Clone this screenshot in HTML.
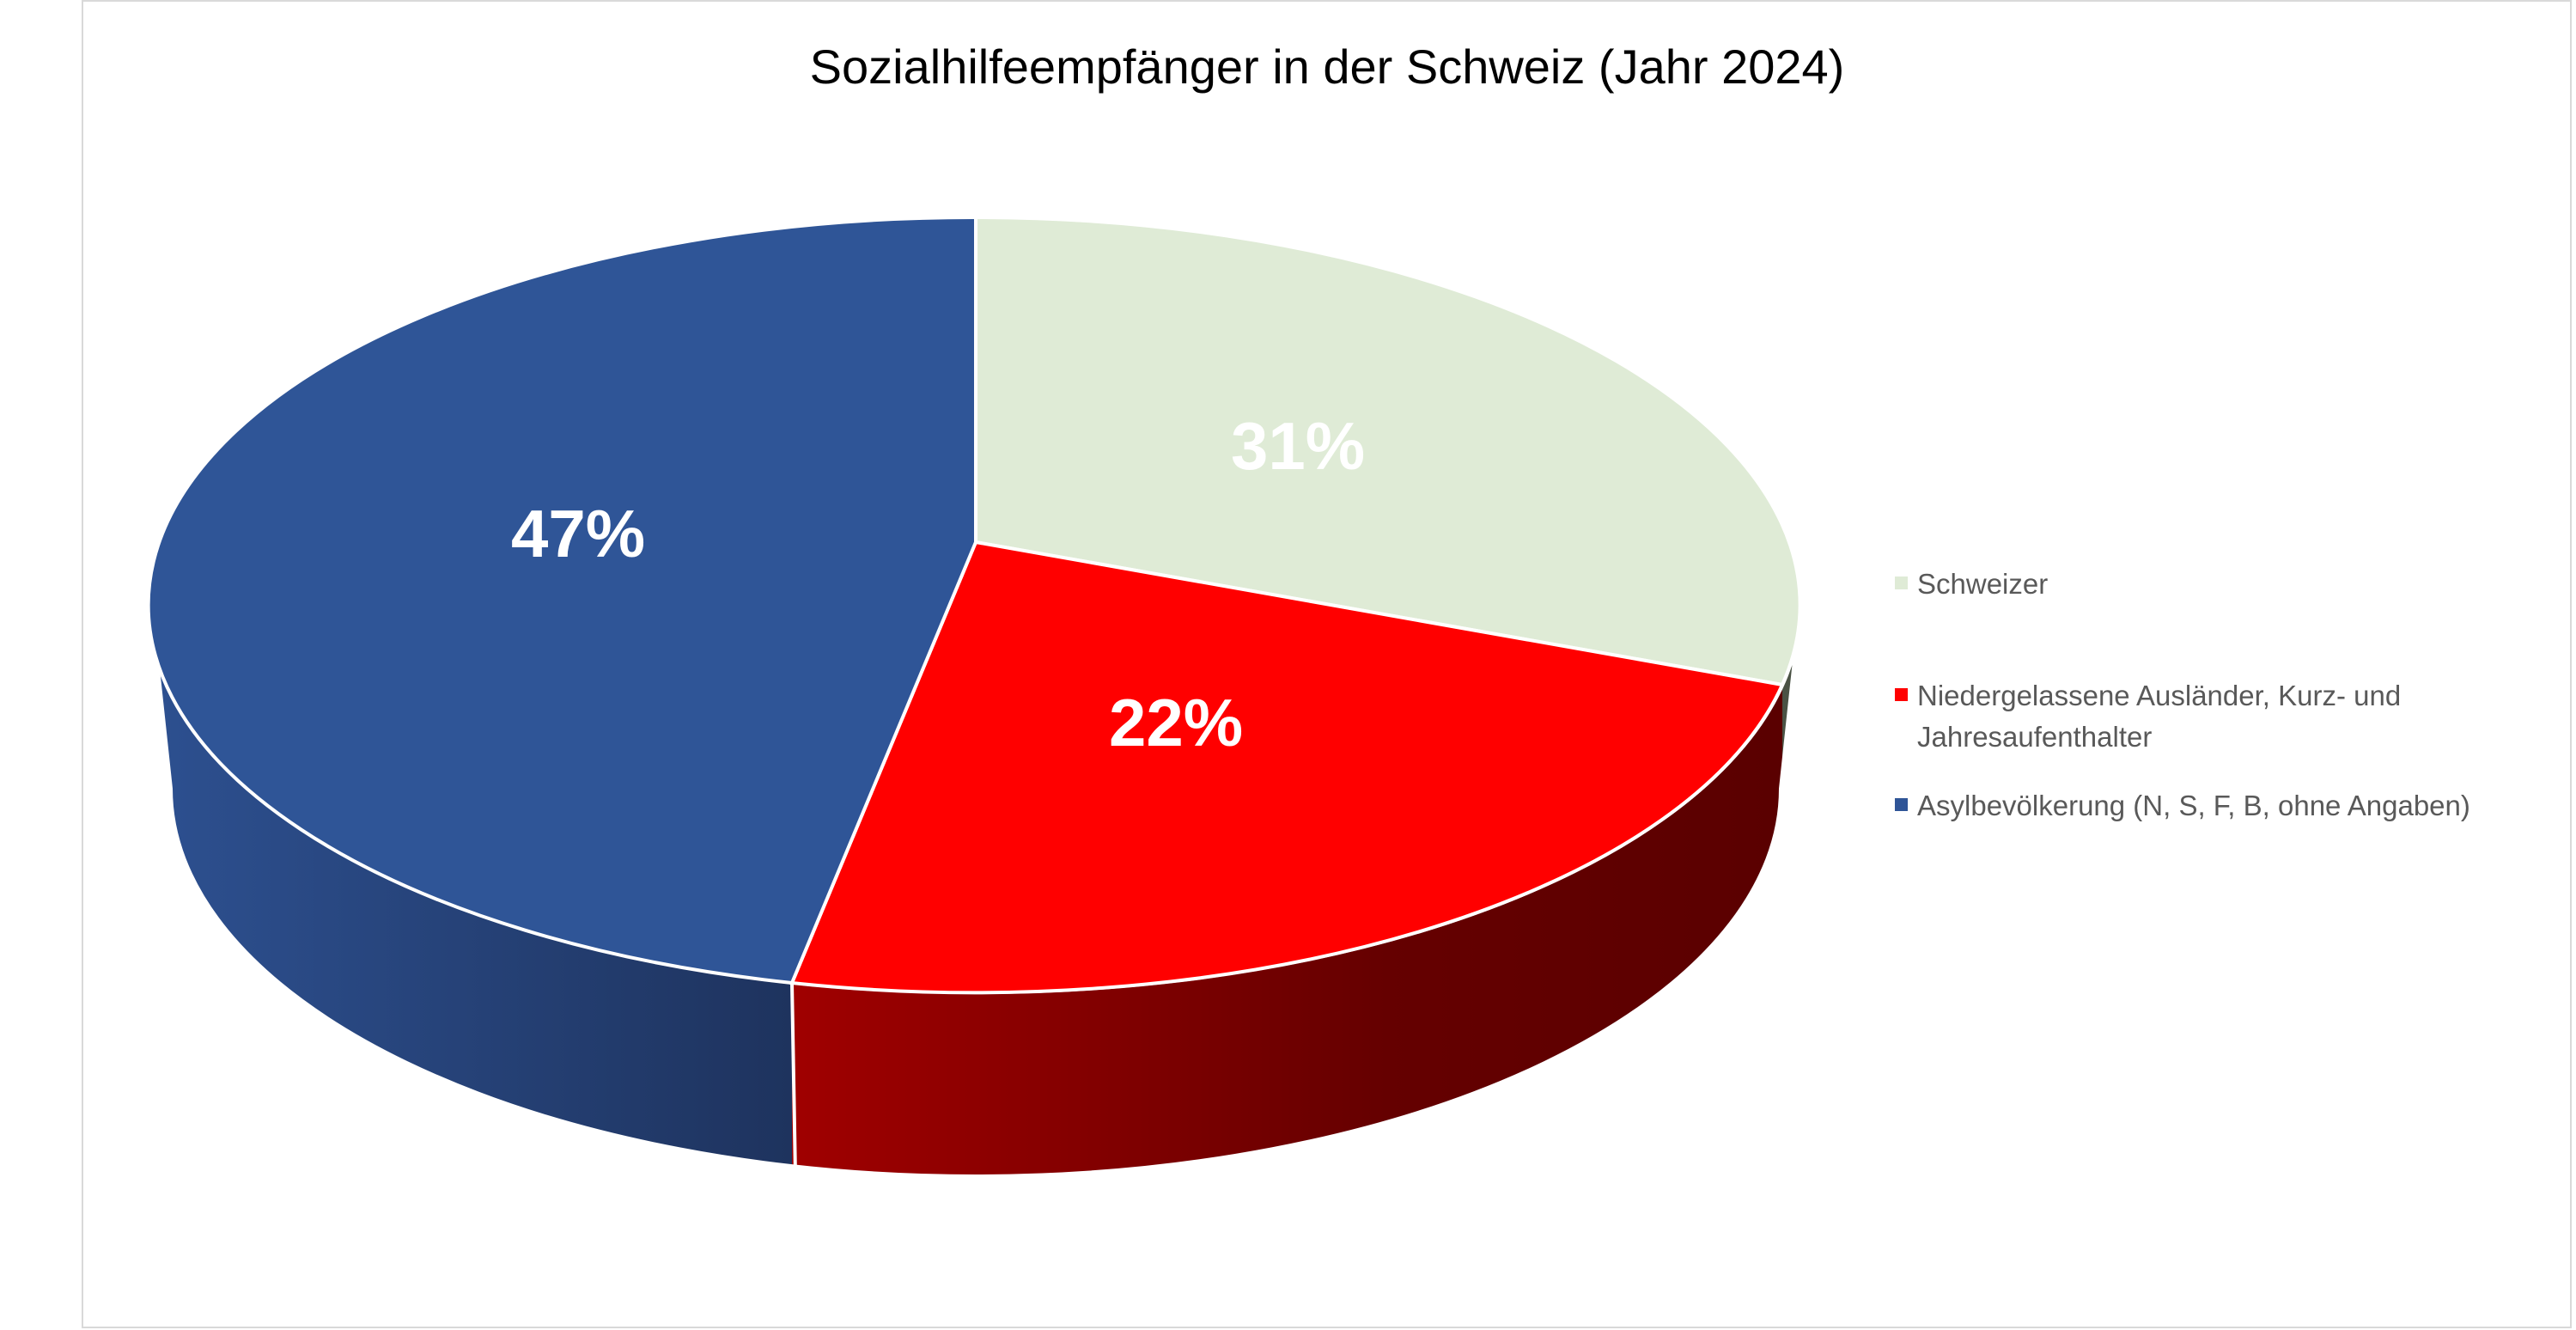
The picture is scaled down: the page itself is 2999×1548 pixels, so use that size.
<!DOCTYPE html>
<html><head><meta charset="utf-8"><style>
html,body{margin:0;padding:0;background:#fff;}
svg{display:block;}
text{font-family:"Liberation Sans",sans-serif;}
</style></head><body>
<svg width="2999" height="1548" viewBox="0 0 2999 1548" xmlns="http://www.w3.org/2000/svg">
<defs>
<linearGradient id="gb" x1="176" y1="0" x2="922" y2="0" gradientUnits="userSpaceOnUse">
<stop offset="0" stop-color="#2d5090"/><stop offset="1" stop-color="#1e335e"/></linearGradient>
<linearGradient id="gr" x1="922" y1="0" x2="2075" y2="0" gradientUnits="userSpaceOnUse">
<stop offset="0" stop-color="#a00000"/><stop offset="0.6" stop-color="#650000"/><stop offset="1" stop-color="#5a0000"/></linearGradient>
<clipPath id="cb"><rect x="0" y="0" width="922" height="1548"/></clipPath>
<clipPath id="cr"><rect x="922" y="0" width="1153" height="1548"/></clipPath>
<clipPath id="cg"><rect x="2075" y="0" width="900" height="1548"/></clipPath>
</defs>
<rect x="96" y="1" width="2897" height="1544" fill="#fff" stroke="#d9d9d9" stroke-width="2"/>
<text x="1545" y="97" font-size="56" text-anchor="middle" fill="#000">Sozialhilfeempfänger in der Schweiz (Jahr 2024)</text>
<g stroke="#fff" stroke-width="4">
<path clip-path="url(#cb)" d="M176,704 A960,451 0 0 0 2096,704 L2073,918 A937,451 0 0 1 199,918 Z" fill="url(#gb)"/>
<path clip-path="url(#cr)" d="M176,704 A960,451 0 0 0 2096,704 L2073,918 A937,451 0 0 1 199,918 Z" fill="url(#gr)"/>
<path clip-path="url(#cg)" d="M176,704 A960,451 0 0 0 2096,704 L2073,918 A937,451 0 0 1 199,918 Z" fill="#4a5244"/>
<line x1="922" y1="1144" x2="926" y2="1368"/>
<path d="M1136,631 L1136,253 A960,451 0 0 1 2075,797 Z" fill="#dfebd6"/>
<path d="M1136,631 L2075,797 A960,451 0 0 1 922,1144 Z" fill="#ff0000"/>
<path d="M1136,631 L922,1144 A960,451 0 0 1 1136,253 Z" fill="#2f5597"/>
</g>
<g font-weight="bold" font-size="78" fill="#fff" text-anchor="middle">
<text x="1511" y="546">31%</text>
<text x="673" y="648">47%</text>
<text x="1369" y="868">22%</text>
</g>
<g font-size="33" fill="#595959">
<rect x="2206" y="671" width="15" height="15" fill="#dfebd6"/>
<text x="2232" y="691">Schweizer</text>
<rect x="2206" y="801" width="15" height="15" fill="#ff0000"/>
<text x="2232" y="821">Niedergelassene Ausländer, Kurz- und</text>
<text x="2232" y="869">Jahresaufenthalter</text>
<rect x="2206" y="929" width="15" height="15" fill="#2f5597"/>
<text x="2232" y="949">Asylbevölkerung (N, S, F, B, ohne Angaben)</text>
</g>
</svg>
</body></html>
